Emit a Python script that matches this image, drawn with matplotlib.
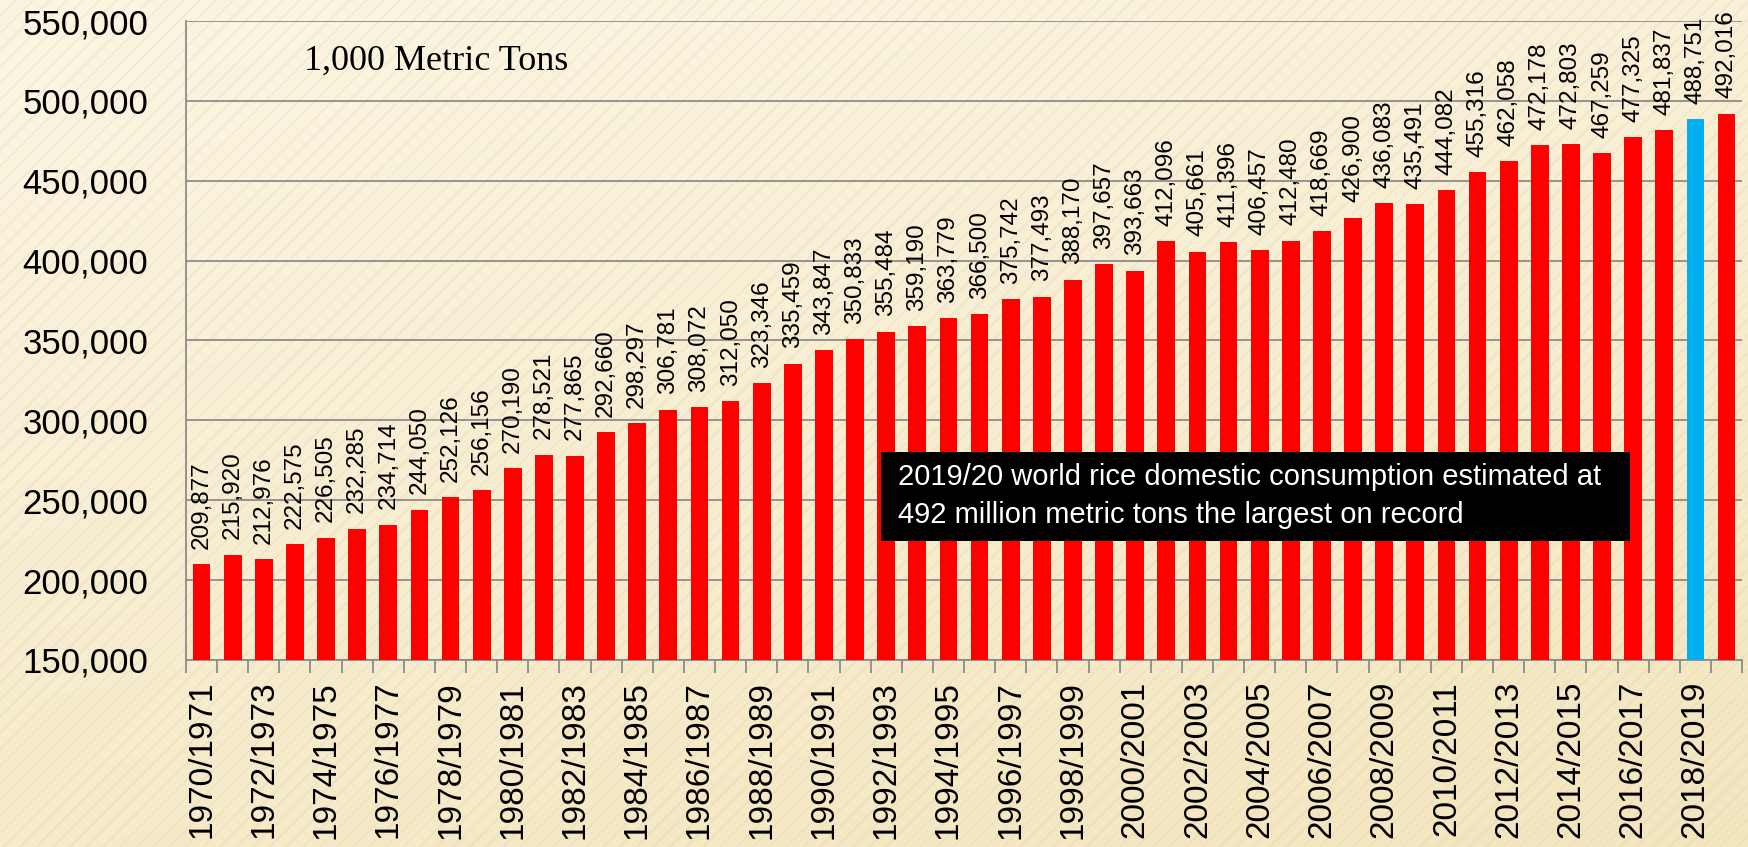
import numpy as np
import matplotlib.pyplot as plt
from matplotlib.patches import Rectangle
from matplotlib.ticker import FuncFormatter, MultipleLocator

# world rice domestic consumption, 1,000 metric tons
years = ["%d/%d" % (y, y + 1) for y in range(1970, 2020)]
consumption = [209877, 215920, 212976, 222575, 226505, 232285, 234714, 244050, 252126, 256156,
               270190, 278521, 277865, 292660, 298297, 306781, 308072, 312050, 323346, 335459,
               343847, 350833, 355484, 359190, 363779, 366500, 375742, 377493, 388170, 397657,
               393663, 412096, 405661, 411396, 406457, 412480, 418669, 426900, 436083, 435491,
               444082, 455316, 462058, 472178, 472803, 467259, 477325, 481837, 488751, 492016]
highlight = "2018/2019"

note = ("2019/20 world rice domestic consumption estimated at\n"
        "492 million metric tons the largest on record")

plt.rcParams['font.family'] = ['Liberation Sans', 'DejaVu Sans']

fig = plt.figure(figsize=(17.48, 8.47), dpi=100)

# textured beige background
bg = fig.add_axes([0, 0, 1, 1], zorder=-10)
gy, gx = np.mgrid[0:1:200j, 0:1:400j]
shade = np.clip(0.35 * gx + 0.75 * gy - 0.1, 0, 1)
c0 = np.array([251, 244, 224]) / 255.0
c1 = np.array([243, 229, 190]) / 255.0
img = c0[None, None, :] * (1 - shade[..., None]) + c1[None, None, :] * shade[..., None]
bg.imshow(img, extent=[0, 1, 0, 1], aspect='auto', origin='upper')
bg.add_patch(Rectangle((0, 0), 1, 1, fill=False, hatch='//', edgecolor=(0.85, 0.80, 0.65, 0.3), linewidth=0))
bg.set_axis_off()

ax = fig.add_axes([0.1064, 0.2208, 0.8902, 0.7544])
ax.patch.set_alpha(0)

x = np.arange(len(years))
colors = ['#00B0F0' if y == highlight else '#FF0000' for y in years]
bars = ax.bar(x, consumption, width=0.57, color=colors, zorder=3)

for xi, v in zip(x, consumption):
    ax.annotate("{:,}".format(v), (xi, v), xytext=(0, 11), textcoords='offset points',
                rotation=90, ha='center', va='bottom', fontsize=17.5, zorder=4)

ax.set_ylim(150000, 550000)
ax.set_xlim(-0.5, len(years) - 0.5)
ax.yaxis.set_major_locator(MultipleLocator(50000))
ax.yaxis.set_major_formatter(FuncFormatter(lambda v, p: "{:,.0f}".format(v)))
ax.grid(axis='y', color='#8C8C8C', linewidth=1.3, zorder=0)
ax.tick_params(axis='y', length=0, pad=27, labelsize=25)

ax.set_xticks(x[::2])
ax.set_xticklabels(years[::2], rotation=90, fontsize=24)
ax.set_xticks(np.arange(-0.5, len(years)), minor=True)
ax.tick_params(axis='x', which='major', length=0, pad=15)
ax.tick_params(axis='x', which='minor', length=9, width=1.3, color='#8C8C8C')

for s in ['top', 'right']:
    ax.spines[s].set_visible(False)
for s in ['left', 'bottom']:
    ax.spines[s].set_color('#8C8C8C')
    ax.spines[s].set_linewidth(1.3)

ax.text(0.0758, 0.923, "1,000 Metric Tons", transform=ax.transAxes, fontsize=26,
        family=['Liberation Serif', 'DejaVu Serif'], va='baseline', ha='left')

ax.add_patch(Rectangle((0.4467, 0.1862), 0.4814, 0.1393, transform=ax.transAxes,
                       facecolor='black', edgecolor='none', zorder=5))
ax.text(0.4576, 0.2567, note, transform=ax.transAxes, color='white', fontsize=21,
        family=['Liberation Sans Narrow', 'Liberation Sans', 'DejaVu Sans'],
        va='center', ha='left', linespacing=1.45, zorder=6)

plt.savefig("out.png", dpi=100)
